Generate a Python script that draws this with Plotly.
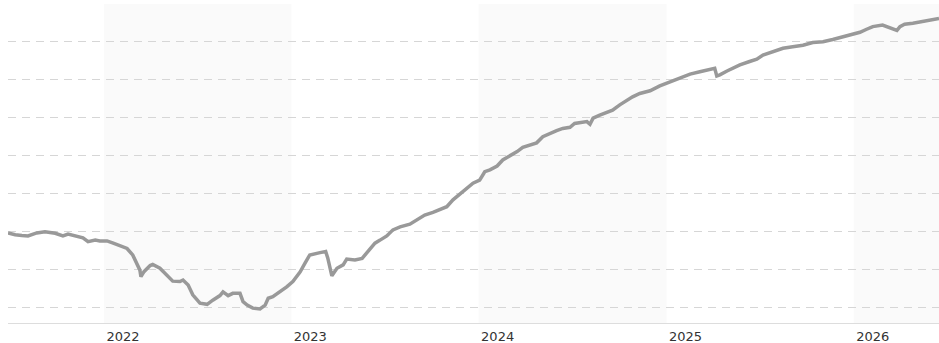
import plotly.graph_objects as go

# Index level over time (rebased, ~100 at start)
dates = [
    "2021-06-28", "2021-07-12", "2021-07-25", "2021-08-06", "2021-08-23", "2021-09-08",
    "2021-09-28", "2021-10-13", "2021-10-23", "2021-11-06", "2021-11-21", "2021-12-01",
    "2021-12-15", "2021-12-24", "2022-01-07", "2022-01-19", "2022-02-01", "2022-02-15",
    "2022-02-26", "2022-03-06", "2022-03-12", "2022-03-14", "2022-03-20", "2022-04-01",
    "2022-04-06", "2022-04-20", "2022-05-04", "2022-05-15", "2022-05-29", "2022-06-04",
    "2022-06-14", "2022-06-23", "2022-07-07", "2022-07-21", "2022-08-01", "2022-08-15",
    "2022-08-21", "2022-08-31", "2022-09-09", "2022-09-23", "2022-09-29", "2022-10-07",
    "2022-10-18", "2022-11-01", "2022-11-11", "2022-11-17", "2022-11-26", "2022-12-10",
    "2022-12-23", "2023-01-04", "2023-01-18", "2023-01-28", "2023-02-06", "2023-02-26",
    "2023-03-09", "2023-03-13", "2023-03-17", "2023-03-21", "2023-03-31", "2023-04-12",
    "2023-04-19", "2023-05-05", "2023-05-19", "2023-05-30", "2023-06-13", "2023-06-23",
    "2023-07-06", "2023-07-18", "2023-08-01", "2023-08-20", "2023-09-05", "2023-09-18",
    "2023-10-04", "2023-10-18", "2023-10-31", "2023-11-12", "2023-11-26", "2023-12-09",
    "2023-12-21", "2024-01-03", "2024-01-13", "2024-01-23", "2024-02-06", "2024-02-17",
    "2024-03-02", "2024-03-16", "2024-03-27", "2024-04-10", "2024-04-23", "2024-05-05",
    "2024-05-19", "2024-06-01", "2024-06-13", "2024-06-27", "2024-07-06", "2024-07-16",
    "2024-07-30", "2024-08-05", "2024-08-11", "2024-08-24", "2024-09-07", "2024-09-18",
    "2024-10-02", "2024-10-16", "2024-10-27", "2024-11-10", "2024-11-30", "2024-12-19",
    "2025-01-08", "2025-01-27", "2025-02-16", "2025-03-07", "2025-03-27", "2025-04-05",
    "2025-04-09", "2025-04-15", "2025-04-29", "2025-05-10", "2025-05-24", "2025-06-12",
    "2025-06-26", "2025-07-08", "2025-07-27", "2025-08-16", "2025-09-04", "2025-09-24",
    "2025-10-13", "2025-11-02", "2025-11-21", "2025-12-11", "2025-12-30", "2026-01-13",
    "2026-01-26", "2026-02-07", "2026-02-26", "2026-03-12", "2026-03-26", "2026-04-01",
    "2026-04-10", "2026-04-26", "2026-05-10", "2026-05-29", "2026-06-16",
]

values = [
    99.5, 99.0, 98.8, 98.7, 99.5, 99.8,
    99.4, 98.7, 99.2, 98.7, 98.2, 97.2,
    97.6, 97.4, 97.4, 96.8, 96.1, 95.4,
    93.7, 91.5, 89.7, 88.0, 89.3, 90.9,
    91.2, 90.2, 88.4, 86.8, 86.7, 87.1,
    85.8, 83.2, 81.0, 80.7, 81.8, 83.0,
    84.0, 83.0, 83.6, 83.6, 81.4, 80.5,
    79.7, 79.5, 80.5, 82.3, 82.7, 84.0,
    85.3, 86.7, 89.2, 91.6, 93.7, 94.3,
    94.6, 92.9, 90.3, 88.2, 90.2, 91.1,
    92.6, 92.4, 92.8, 94.6, 96.8, 97.6,
    98.7, 100.3, 101.1, 101.8, 103.1, 104.2,
    104.9, 105.7, 106.4, 108.2, 109.7, 111.2,
    112.6, 113.4, 115.6, 116.1, 117.1, 118.7,
    119.7, 120.9, 122.0, 122.6, 123.2, 124.8,
    125.7, 126.4, 127.0, 127.3, 128.3, 128.6,
    128.8, 128.1, 129.7, 130.5, 131.1, 131.8,
    133.2, 134.5, 135.3, 136.2, 136.9, 138.2,
    139.3, 140.2, 141.3, 141.9, 142.4, 142.8,
    140.8, 141.1, 142.1, 142.8, 143.7, 144.6,
    145.2, 146.3, 147.2, 148.1, 148.5, 148.9,
    149.6, 149.8, 150.4, 151.1, 151.8, 152.3,
    153.1, 153.8, 154.2, 153.6, 152.8, 153.8,
    154.4, 154.7, 155.0, 155.5, 155.9,
]

# Alternating year bands (shaded years)
band_starts = ["2022-01-01", "2024-01-01", "2026-01-01"]
band_ends = ["2023-01-01", "2025-01-01", "2026-06-16"]

x_range = ["2021-06-28", "2026-06-16"]
y_range = [75.79, 159.74]
grid_values = [80, 90, 100, 110, 120, 130, 140, 150]

fig = go.Figure()

fig.add_trace(go.Scatter(
    x=dates, y=values, mode="lines",
    line=dict(color="#999999", width=3.5),
    hoverinfo="x+y", showlegend=False,
))

for s, e in zip(band_starts, band_ends):
    fig.add_shape(
        type="rect", xref="x", yref="paper", x0=s, x1=e, y0=0, y1=1,
        fillcolor="rgba(246,246,246,0.55)", line=dict(width=0), layer="between",
    )

fig.update_layout(
    width=939, height=343,
    margin=dict(l=8, r=0, t=4, b=20, autoexpand=False),
    paper_bgcolor="white", plot_bgcolor="white",
    showlegend=False,
)

fig.update_xaxes(
    type="date", range=x_range, automargin=False,
    tick0="2022-01-01", dtick="M12", tickformat="%Y",
    showgrid=False, zeroline=False,
    showline=True, linecolor="#dddddd", linewidth=1,
    ticks="", ticklabelshift=19, ticklabelstandoff=1,
    tickfont=dict(family="DejaVu Sans", size=13, color="#333333"),
)

fig.update_yaxes(
    range=y_range, tickvals=grid_values, showticklabels=False, automargin=False,
    showgrid=True, gridcolor="#d6d6d6", gridwidth=1, griddash="8px,6px",
    zeroline=False, showline=False,
)

fig.write_html("out.html")
